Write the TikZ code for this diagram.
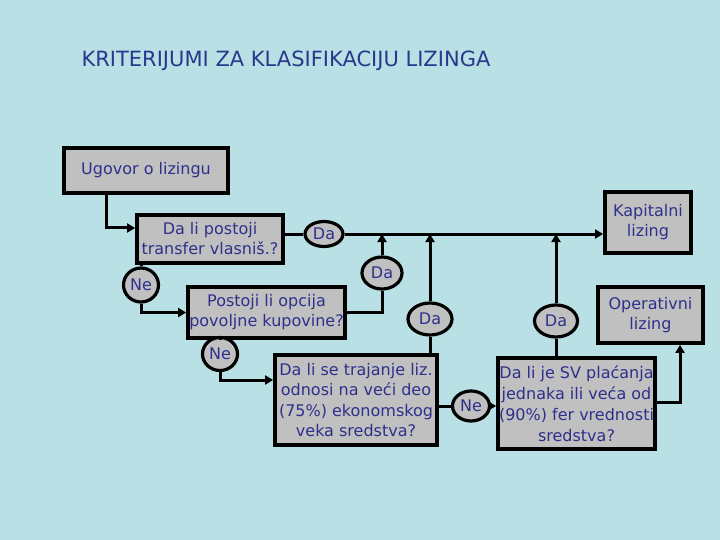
\documentclass[tikz,border=0pt]{standalone}
\usepackage{fontspec}
\setmainfont{DejaVu Sans}
\usetikzlibrary{shapes.geometric,arrows.meta}
\definecolor{bgc}{RGB}{185,224,228}
\definecolor{boxc}{RGB}{192,192,192}
\definecolor{txtc}{RGB}{46,48,140}
\definecolor{titc}{RGB}{40,56,140}
\tikzset{
  qbox/.style={draw=black, line width=3.8pt, fill=boxc, text=txtc, inner sep=0pt,
    align=center, font=\fontsize{16}{20}\selectfont},
  lbl/.style={draw=black, line width=3.2pt, fill=boxc, text=txtc, ellipse, inner sep=0pt,
    font=\fontsize{16}{18}\selectfont},
  ln/.style={line width=3pt, black},
  arr/.style={ln, -{Triangle[length=8pt,width=9pt]}}
}
\begin{document}
\begin{tikzpicture}[x=1pt,y=-1pt]
\fill[bgc] (0,0) rectangle (720,540);
\useasboundingbox (0,0) rectangle (720,540);

\node[anchor=west, text=titc, font=\fontsize{21}{24}\selectfont] (title) at (78,61)
  {KRITERIJUMI ZA KLASIFIKACIJU LIZINGA};

% boxes
\node[qbox, minimum width=164, minimum height=45] (ugovor) at (146,170.5) {Ugovor o lizingu};
\node[qbox, minimum width=146, minimum height=48] (transfer) at (210,239) {Da li postoji\\transfer vlasniš.?};
\node[qbox, minimum width=157, minimum height=51] (postoji) at (266.5,312.5) {Postoji li opcija\\povoljne kupovine?};
\node[qbox, minimum width=86, minimum height=61] (kap) at (648,222.5) {Kapitalni\\lizing};
\node[qbox, minimum width=105, minimum height=56] (oper) at (650.5,315) {Operativni\\lizing};
\node[qbox, minimum width=162, minimum height=90, font=\fontsize{16}{20.5}\selectfont] (traj) at (356,400)
  {Da li se trajanje liz.\\odnosi na veći deo\\(75\%) ekonomskog\\veka sredstva?};
\node[qbox, minimum width=157, minimum height=91, font=\fontsize{16}{21}\selectfont] (sv) at (576.5,403.5)
  {Da li je SV plaćanja\\jednaka ili veća od\\(90\%) fer vrednosti\\sredstva?};

% labels
\node[lbl, minimum width=38, minimum height=25] (da1) at (324,234) {Da};
\node[lbl, minimum width=40, minimum height=32] (da2) at (382,273) {Da};
\node[lbl, minimum width=44, minimum height=32] (da3) at (430,319) {Da};
\node[lbl, minimum width=43, minimum height=32] (da4) at (556,321) {Da};
\node[lbl, minimum width=35, minimum height=34] (ne1) at (141,285) {Ne};
\node[lbl, minimum width=35, minimum height=33] (ne2) at (220,354) {Ne};
\node[lbl, minimum width=37, minimum height=30] (ne3) at (471,406) {Ne};

% connectors
\draw[arr] ([xshift=44pt]ugovor.south west) |- ([yshift=11pt]transfer.west);
\draw[ln] (transfer.east |- da1) -- (da1);
\draw[arr] (da1) -- (kap.west |- da1);
\draw[ln] (transfer.south -| ne1) -- (ne1);
\draw[arr] (ne1) |- (postoji.west);
\draw[ln] (postoji.east) -| (da2);
\draw[arr] (da2) -- (da2 |- da1);
\draw[ln] (traj.north -| da3) -- (da3);
\draw[arr] (da3) -- (da3 |- da1);
\draw[ln] (postoji.south -| ne2) -- (ne2);
\draw[arr] (ne2) |- ([yshift=20pt]traj.west);
\draw[ln] (traj.east |- ne3) -- (ne3);
\draw[arr] (ne3) -- (sv.west |- ne3);
\draw[ln] (sv.north -| da4) -- (da4);
\draw[arr] (da4) -- (da4 |- da1);
\draw[arr] ([yshift=1.5pt]sv.east) -| ([xshift=29.5pt]oper.south);
\end{tikzpicture}
\end{document}
